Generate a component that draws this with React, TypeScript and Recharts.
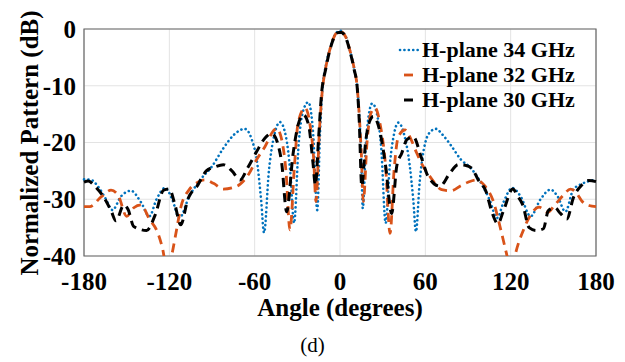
import {LineChart, Line, XAxis, YAxis, CartesianGrid, ReferenceArea, Label} from 'recharts';

// [angle (deg), normalized pattern (dB)]
const hPlane34: [number, number][] = [
  [-180, -26.5], [-175, -26.6], [-170, -27.8], [-165, -29.8], [-160, -31.9], [-154, -29.5], [-147, -28.5],
  [-140, -30.5], [-134, -33], [-129, -30], [-123, -28], [-118, -30], [-113, -33.3], [-106, -29.5],
  [-98, -26.5], [-90, -24.2], [-82, -21], [-74, -18.5], [-67, -17.6], [-62, -19.5], [-58, -24],
  [-55.5, -30], [-53.4, -35.9], [-50, -25], [-46, -18.5], [-42.2, -16.4], [-38, -19], [-35, -25],
  [-32.3, -34.2], [-29, -20], [-26, -14.5], [-22.3, -12.9], [-19, -18], [-16, -31.9], [-14, -18],
  [-12.5, -11], [-10, -6.5], [-7, -3.5], [-4, -1.2], [0, -0.3], [4, -1.3], [7, -3.8], [10, -7],
  [12, -10], [13.5, -15], [15, -23], [16, -31.6], [18.5, -19], [22.7, -13.1], [26, -15], [29, -21],
  [32.1, -34.2], [35, -24], [38, -18.5], [41, -16.5], [45, -18.5], [49, -24], [51.5, -30],
  [53.4, -35.7], [56, -27], [60, -20], [64, -18], [67.5, -17.6], [72, -18.6], [78, -20.5], [85, -23],
  [92, -24.5], [100, -27.5], [105, -30], [110.5, -33.3], [115, -30.5], [121, -28], [127, -29.5],
  [134, -33], [141, -30], [148, -28.3], [153, -29.5], [158.5, -32.2], [164, -28.3], [170, -27.3],
  [175, -26.8], [180, -26.6],
];

const hPlane32: [number, number][] = [
  [-180, -31.3], [-176, -31.3], [-168, -29.6], [-161, -28.4], [-156, -29.3], [-150, -33], [-145, -31.5],
  [-140, -31], [-134, -33.5], [-128, -36], [-124.5, -39], [-121.5, -43], [-118, -39.5], [-115, -35.5],
  [-112, -31.5], [-106, -28.3], [-100, -27], [-95, -26.6], [-89, -27.2], [-82, -28.2], [-76, -28],
  [-70, -27.3], [-64, -25.5], [-58.6, -23], [-52.7, -20.7], [-47, -18], [-44.5, -17.5], [-41, -19.5],
  [-38, -25], [-35.2, -35.4], [-32, -24], [-29.5, -16.6], [-24.6, -13.9], [-21, -17], [-18.5, -23],
  [-16.9, -30.4], [-14.5, -18], [-12.5, -11], [-10, -6.8], [-7, -3.5], [-4, -1.3], [-1, -0.4],
  [1, -0.5], [4, -1.4], [7, -3.8], [10, -7], [12, -10], [13.5, -15], [15, -22], [16.4, -30.4],
  [19, -20], [21.5, -15], [24.6, -13.9], [28, -16.5], [32, -24], [35.2, -36], [38, -25], [41, -19],
  [45.7, -17.8], [50, -19.5], [54, -21.9], [58, -24], [63.3, -26], [71.5, -28.3], [78, -28.5],
  [84.4, -27.7], [90, -27], [96, -26.6], [102, -27.7], [108, -30.5], [112.5, -34.8], [117, -39.5],
  [120.5, -43], [123.5, -39.5], [129, -35.4], [135, -32.4], [140, -31.4], [146, -32.3], [151, -31],
  [157, -29.3], [162, -28.2], [166, -28.8], [170, -30.3], [175, -31.1], [180, -31.3],
];

const hPlane30: [number, number][] = [
  [-180, -27], [-177, -26.8], [-172, -27.8], [-167, -29.3], [-161, -32], [-157.5, -33.8], [-152, -31],
  [-149, -31.8], [-145, -34.8], [-136, -35.5], [-130, -32.8], [-124, -28.4], [-120, -28.2], [-116, -31],
  [-112, -34.5], [-107, -30], [-100, -27.5], [-94, -25], [-88, -24.3], [-82, -23.9], [-76, -25],
  [-70.3, -26.6], [-65, -24.5], [-58.6, -21.6], [-52.7, -19.2], [-48, -18.4], [-44, -20], [-41, -23.6],
  [-37.5, -32.2], [-33, -22], [-29, -16.5], [-25.8, -15.1], [-22, -17], [-19, -23.6], [-17.3, -27.5],
  [-15, -19], [-13, -11.5], [-10, -7], [-7, -3.6], [-4, -1.4], [-1, -0.6], [1, -0.6], [4, -1.5],
  [7, -3.9], [10, -7.2], [12, -10], [13.5, -16], [15.3, -27.7], [18, -20], [20.5, -16.5], [23.4, -15.4],
  [28, -18], [32, -24], [36.3, -32.5], [40, -24], [43.4, -21.9], [47, -19.5], [51.6, -19], [57, -22.5],
  [62, -26], [70.3, -27.7], [77, -25.5], [83.2, -23.9], [88, -24], [92.6, -24.5], [97, -26.5],
  [102.6, -28.6], [107, -32.4], [111, -34.3], [115, -32], [121.5, -28.2], [125, -29.5], [128.5, -31],
  [133, -35], [138, -35.5], [143, -35.2], [146.5, -32], [151, -31.5], [155, -32.5], [159.5, -33.5],
  [164, -29.8], [170, -27.5], [175, -26.7], [180, -26.9],
];

const xTicks = [-180, -120, -60, 0, 60, 120, 180];
const yTicks = [-40, -30, -20, -10, 0];

const series = [
  {name: 'H-plane 34 GHz', data: hPlane34, color: '#0072BD', dash: '0.1 4.3', width: 2.6, cap: 'round' as const},
  {name: 'H-plane 32 GHz', data: hPlane32, color: '#D95319', dash: '9 6', width: 2.8, cap: 'butt' as const},
  {name: 'H-plane 30 GHz', data: hPlane30, color: '#000000', dash: '9 6', width: 3, cap: 'butt' as const},
];

const font = '"Liberation Serif", "Times New Roman", serif';

const toRows = (pts: [number, number][]) => pts.map(([angle, db]) => ({angle, db}));

function LegendBox() {
  return (
    <div style={{position: 'absolute', top: 37, left: 398, fontFamily: font, fontWeight: 'bold', fontSize: 22,
      lineHeight: '25px', color: '#000'}}>
      {series.map((s) => (
        <div key={s.name} style={{display: 'flex', alignItems: 'center', whiteSpace: 'nowrap'}}>
          <svg width={24} height={25}>
            {s.cap === 'round' ? (
              <line x1={2} y1={13} x2={20} y2={13} stroke={s.color} strokeWidth={2.6}
                    strokeDasharray="0.1 4.3" strokeLinecap="round"/>
            ) : (
              <line x1={6} y1={13} x2={15} y2={13} stroke={s.color} strokeWidth={s.width}/>
            )}
          </svg>
          <span>{s.name}</span>
        </div>
      ))}
    </div>
  );
}

export default function App() {
  return (
    <div style={{position: 'absolute', left: 0, top: 0, width: 625, height: 362, background: '#fff'}}>
      <LineChart width={625} height={362} margin={{top: 29, right: 29, bottom: 56, left: 0}}>
        <CartesianGrid stroke="#e3e3e3" strokeWidth={1}/>
        <XAxis
          dataKey="angle"
          type="number"
          domain={[-180, 180]}
          ticks={xTicks}
          height={50}
          axisLine={false}
          tickLine={false}
          tickMargin={10}
          tick={{fontFamily: font, fontWeight: 'bold', fontSize: 25, fill: '#000'}}
        >
          <Label content={() => (
            <text x={340} y={307} textAnchor="middle" dominantBaseline="central"
                  style={{fontFamily: font, fontWeight: 'bold', fontSize: 25, fill: '#000'}}>
              Angle (degrees)
            </text>
          )}/>
        </XAxis>
        <YAxis
          type="number"
          domain={[-40, 0]}
          ticks={yTicks}
          allowDataOverflow
          width={84}
          axisLine={false}
          tickLine={false}
          tickMargin={2}
          tick={{fontFamily: font, fontWeight: 'bold', fontSize: 25, fill: '#000'}}
        >
          <Label content={() => (
            <text x={29} y={143} transform="rotate(-90 29 143)" textAnchor="middle" dominantBaseline="central"
                  style={{fontFamily: font, fontWeight: 'bold', fontSize: 25, fill: '#000'}}>
              Normalized Pattern (dB)
            </text>
          )}/>
        </YAxis>
        {series.map((s) => (
          <Line
            key={s.name}
            data={toRows(s.data)}
            dataKey="db"
            name={s.name}
            type="monotone"
            stroke={s.color}
            strokeWidth={s.width}
            strokeDasharray={s.dash}
            strokeLinecap={s.cap}
            dot={false}
            activeDot={false}
            isAnimationActive={false}
          />
        ))}
        <ReferenceArea x1={-180} x2={180} y1={-40} y2={0} fill="none" stroke="#666" strokeWidth={1.2}/>
      </LineChart>
      <LegendBox/>
      <div style={{position: 'absolute', left: 0, width: 625, top: 333, textAlign: 'center',
        fontFamily: font, fontSize: 21, color: '#000'}}>
        (d)
      </div>
    </div>
  );
}
